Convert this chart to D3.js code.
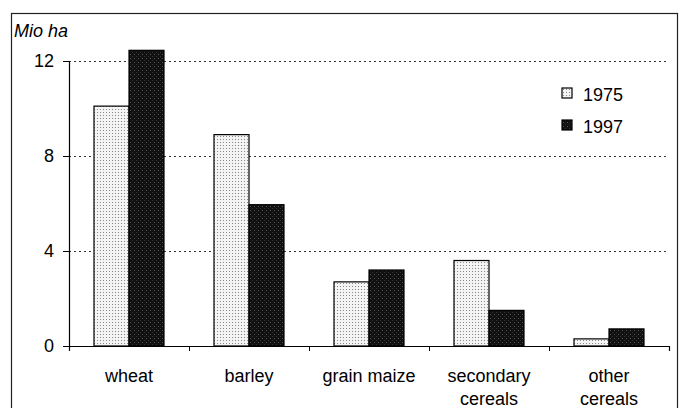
<!DOCTYPE html>
<html><head><meta charset="utf-8">
<script src="https://cdn.jsdelivr.net/npm/d3@7"></script>
<style>body{margin:0;background:#fff}svg{display:block;font-family:"Liberation Sans",Arial,sans-serif}</style>
</head><body>
<svg id="c" width="680" height="408"></svg>
<script>
const categories = [["wheat"],["barley"],["grain maize"],["secondary","cereals"],["other","cereals"]];
const seriesNames = ["1975","1997"];
const values1975 = [10.1, 8.9, 2.7, 3.6, 0.3];
const values1997 = [12.45, 5.95, 3.2, 1.5, 0.72];
const yTicks = [0,4,8,12];

const svg = d3.select("#c");
const defs = svg.append("defs");
const p1 = defs.append("pattern").attr("id","dots").attr("width",3).attr("height",3).attr("patternUnits","userSpaceOnUse");
p1.append("rect").attr("width",3).attr("height",3).attr("fill","#f4f4f4");
p1.append("rect").attr("x",1).attr("y",1).attr("width",1).attr("height",1).attr("fill","#888");
const p2 = defs.append("pattern").attr("id","dark").attr("width",4).attr("height",4).attr("patternUnits","userSpaceOnUse");
p2.append("rect").attr("width",4).attr("height",4).attr("fill","#111");
p2.append("rect").attr("x",1).attr("y",2).attr("width",1).attr("height",1).attr("fill","#555");
p2.append("rect").attr("x",3).attr("y",0).attr("width",1).attr("height",1).attr("fill","#333");

// frame
svg.append("rect").attr("x",11.5).attr("y",13.5).attr("width",666).attr("height",400).attr("fill","none").attr("stroke","#222").attr("stroke-width",1.2);

const x0 = d3.scaleBand().domain(d3.range(categories.length)).range([69,669]).paddingInner(0).paddingOuter(0);
const x1 = d3.scaleBand().domain(seriesNames).range([25, 95]);
const y = d3.scaleLinear().domain([0,12]).range([346,61]);

// grid
svg.append("g").selectAll("line").data(yTicks.filter(d=>d>0)).join("line")
  .attr("x1",69).attr("x2",669).attr("y1",d=>y(d)+0.5).attr("y2",d=>y(d)+0.5)
  .attr("stroke","#333").attr("stroke-width",1).attr("stroke-dasharray","2,3");

const data = categories.map((c,i)=>({i, vals:[values1975[i], values1997[i]]}));
const g = svg.append("g").selectAll("g").data(data).join("g").attr("transform",d=>`translate(${x0(d.i)},0)`);
g.selectAll("rect").data(d=>d.vals.map((v,k)=>({k,v}))).join("rect")
  .attr("x",d=>x1(seriesNames[d.k]))
  .attr("width",x1.bandwidth())
  .attr("y",d=>y(d.v))
  .attr("height",d=>y(0)-y(d.v))
  .attr("fill",d=>d.k===0?"url(#dots)":"url(#dark)")
  .attr("stroke","#000").attr("stroke-width",1.2);

// y axis
const ya = svg.append("g").attr("transform","translate(69,0)")
  .call(d3.axisLeft(y).tickValues(yTicks).tickSize(6).tickPadding(9).tickFormat(d3.format("d")));
ya.select(".domain").attr("stroke","#000").attr("stroke-width",1.2);
ya.selectAll("text").attr("font-size",18).attr("fill","#000").attr("font-family","Liberation Sans, Arial, sans-serif");

// x axis
const xa = svg.append("g").attr("transform","translate(0,346)")
  .call(d3.axisBottom(d3.scaleLinear().domain([0,5]).range([69,669])).tickValues(d3.range(0,6)).tickSize(5).tickFormat(""));
xa.select(".domain").attr("stroke","#000").attr("stroke-width",1.2);
xa.selectAll("line").attr("stroke","#000");

const labels = svg.append("g").selectAll("text").data(categories).join("text")
  .attr("x",(d,i)=>x0(i)+x0.bandwidth()/2).attr("y",382)
  .attr("text-anchor","middle").attr("font-size",18).attr("fill","#000");
labels.selectAll("tspan").data(d=>d).join("tspan")
  .attr("x",function(){return this.parentNode.getAttribute("x");})
  .attr("dy",(d,j)=>j===0?0:23).text(d=>d);

svg.append("text").attr("x",14).attr("y",37).attr("font-size",18).attr("font-style","italic").text("Mio ha");

// legend
const lg = svg.append("g").selectAll("g").data(seriesNames).join("g")
  .attr("transform",(d,i)=>`translate(562,${88+i*32})`);
lg.append("rect").attr("width",10).attr("height",10).attr("fill",(d,i)=>i===0?"url(#dots)":"url(#dark)").attr("stroke","#000").attr("stroke-width",1.2);
lg.append("text").attr("x",21).attr("y",13).attr("font-size",18).text(d=>d);
</script>
</body></html>
